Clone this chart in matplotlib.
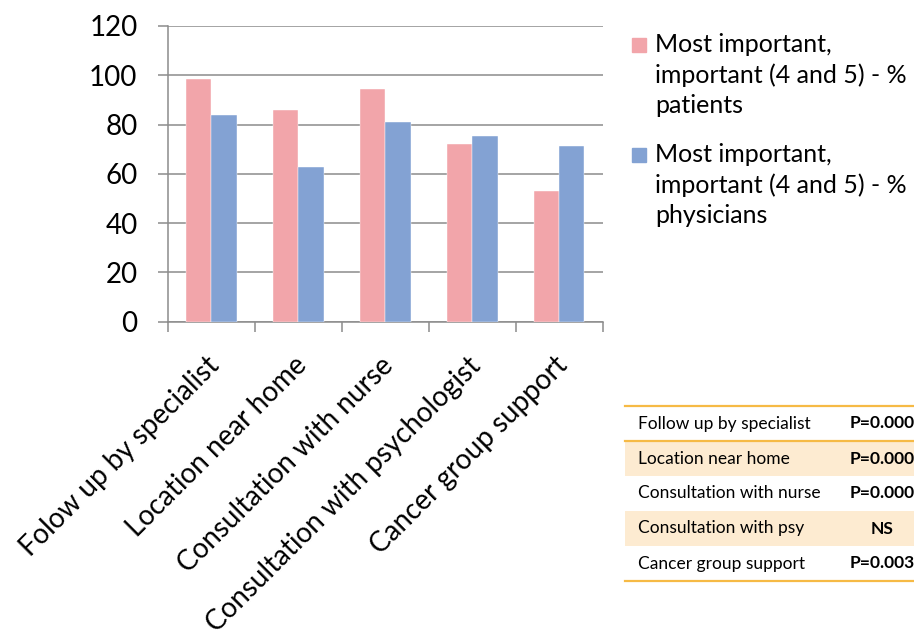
import matplotlib
matplotlib.use('Agg')
import matplotlib.pyplot as plt
import matplotlib.transforms as mtransforms
import numpy as np
from matplotlib.patches import Rectangle

plt.rcParams['font.family'] = ['Lato', 'DejaVu Sans']

# chart data
categories = ['Folow up by specialist', 'Location near home', 'Consultation with nurse',
              'Consultation with psychologist', 'Cancer group support']
patients = [98.3, 85.9, 94.3, 72.0, 53.1]
physicians = [83.7, 62.9, 81.0, 75.3, 71.3]
series_labels = ['Most important,\nimportant (4 and 5) - %\npatients',
                 'Most important,\nimportant (4 and 5) - %\nphysicians']

# p-value table
table_items = ['Follow up by specialist', 'Location near home', 'Consultation with nurse',
               'Consultation with psy', 'Cancer group support']
table_pvalues = ['P=0.000', 'P=0.000', 'P=0.000', 'NS', 'P=0.003']

pink = '#F2A5AA'
blue = '#83A2D3'
grid_col = '#8C8C8C'
orange = '#F6BA45'
fill_col = '#FDEBD1'

fig = plt.figure(figsize=(9.14, 6.30), dpi=100)
ax = fig.add_axes([168 / 914, 1 - 321.7 / 630, (602.7 - 168) / 914, (321.7 - 26) / 630])

x = np.arange(len(categories)) + 0.5
w = 0.29
ax.bar(x - w / 2, patients, w, color=pink, edgecolor='white', linewidth=0.3, zorder=3)
ax.bar(x + w / 2, physicians, w, color=blue, edgecolor='white', linewidth=0.3, zorder=3)

ax.set_xlim(0, len(categories))
ax.set_ylim(0, 120)
ax.set_yticks(np.arange(0, 121, 20))
ax.yaxis.grid(True, color=grid_col, linewidth=1.1, zorder=0)
ax.set_axisbelow(True)
for s in ['top', 'right']:
    ax.spines[s].set_visible(False)
for s in ['left', 'bottom']:
    ax.spines[s].set_color(grid_col)
    ax.spines[s].set_linewidth(1.1)

ax.tick_params(axis='y', length=7, width=1.1, color=grid_col, pad=15, labelsize=20)
ax.set_xticks(x)
ax.set_xticks(np.arange(len(categories) + 1), minor=True)
ax.tick_params(axis='x', which='major', length=0, pad=22)
ax.tick_params(axis='x', which='minor', length=7, width=1.1, color=grid_col)
ax.set_xticklabels(categories, rotation=45, ha='right', va='top',
                   rotation_mode='anchor', fontsize=20)
shift = mtransforms.ScaledTranslation(-5 / 100, 0, fig.dpi_scale_trans)
for lbl in ax.get_xticklabels():
    lbl.set_transform(lbl.get_transform() + shift)

# legend drawn by hand so the swatch sits on the first line
leg_top = [38, 148]
for lab, col, yy in zip(series_labels, [pink, blue], leg_top):
    fig.patches.append(Rectangle((632 / 914, 1 - (yy + 14) / 630), 14 / 914, 14 / 630,
                                 transform=fig.transFigure, color=col))
    fig.text(655 / 914, 1 - (yy - 5) / 630, lab, fontsize=18, va='top', ha='left',
             linespacing=1.38)

# p-value table
axt = fig.add_axes([625 / 914, 1 - 581 / 630, 289 / 914, (581 - 406) / 630])
axt.set_xlim(0, 1)
axt.set_ylim(len(table_items), 0)
axt.axis('off')
for i, (item, pv) in enumerate(zip(table_items, table_pvalues)):
    if i % 2 == 1:
        axt.axhspan(i, i + 1, color=fill_col, lw=0)
    axt.text(0.045, i + 0.5, item, fontsize=12.5, va='center', ha='left')
    axt.text(0.89, i + 0.5, pv, fontsize=12.5, va='center', ha='center', fontweight='bold')
for yy in [0, 1, len(table_items)]:
    axt.axhline(yy, color=orange, linewidth=1.6, clip_on=False)

fig.savefig('out.png', dpi=100)
